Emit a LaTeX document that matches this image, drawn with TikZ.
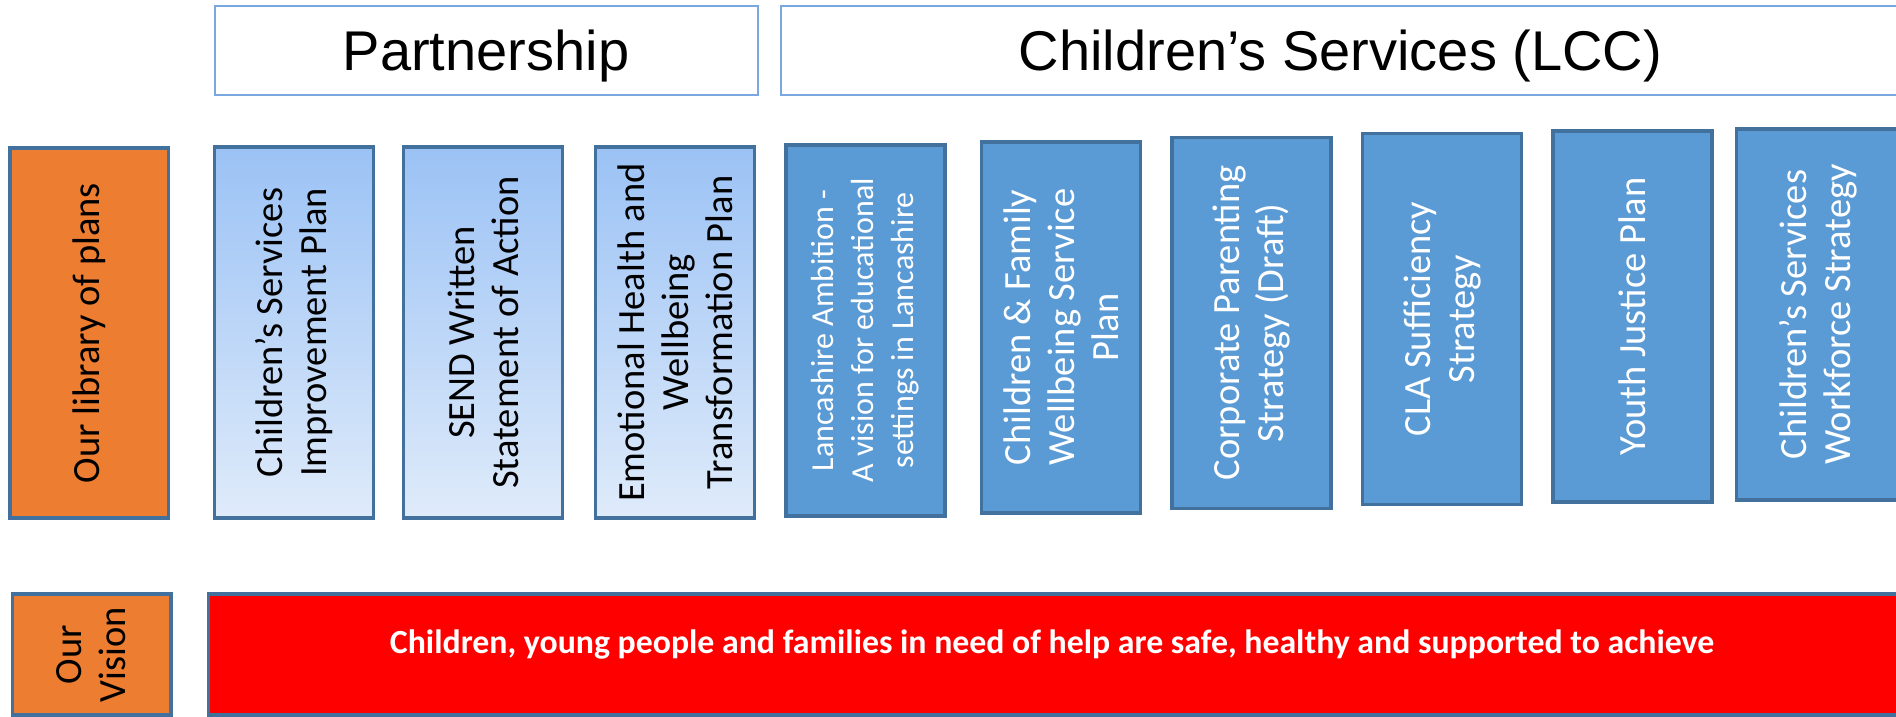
\documentclass[tikz,border=0pt]{standalone}
\usepackage{fontspec}
\newfontfamily\boxfont{Carlito}
\newfontfamily\headfont{Liberation Sans}
\definecolor{edgeblue}{HTML}{41719C}
\definecolor{planblue}{HTML}{5B9BD5}
\definecolor{headline}{HTML}{7AA7E0}
\definecolor{sideorange}{HTML}{ED7D31}
\definecolor{gradtop}{RGB}{155,194,245}
\definecolor{gradbottom}{RGB}{223,235,250}
\definecolor{visionred}{HTML}{FF0000}

\begin{document}
\begin{tikzpicture}[x=1pt,y=-1pt,
  headbox/.style={draw=headline, line width=2pt, fill=white, inner sep=0pt,
    font=\headfont\fontsize{56}{60}\selectfont, text depth=0pt},
  tallbox/.style={draw=edgeblue, line width=3.5pt, rotate=90, inner sep=0pt,
    align=center, minimum width=371pt, minimum height=159pt,
    font=\boxfont\fontsize{38.5}{44}\selectfont},
  sidebox/.style={tallbox, fill=sideorange, text=black},
  partbox/.style={tallbox, top color=gradtop, bottom color=gradbottom, text=black},
  lccbox/.style={tallbox, fill=planblue, text=white},
  smalltext/.style={font=\boxfont\fontsize{32}{40}\selectfont},
  visionbar/.style={draw=edgeblue, line width=3.5pt, fill=visionred, inner sep=0pt},
  visiontext/.style={text=white, inner sep=0pt,
    font=\boxfont\bfseries\fontsize{33.8}{40}\selectfont}
]
\useasboundingbox (0,0) rectangle (1896,717);
\clip (0,0) rectangle (1896,717);

% column headings
\node[headbox, minimum width=543pt, minimum height=88pt] (partnership) at (486,50.5) {Partnership};
\node[headbox, minimum width=1119pt, minimum height=88pt] (lcc) at (1340.5,50.5) {Children’s Services (LCC)};

% row label
\node[sidebox, minimum width=370pt, minimum height=158.5pt] (library) at (89,333) {Our library of plans};

% partnership plans
\node[partbox] (csip) at (294,332.5) {Children’s Services\\Improvement Plan};
\node[partbox] (send) at (483,332.5) {SEND Written\\Statement of Action};
\node[partbox] (ehwb) at (675,332.5) {Emotional Health and\\Wellbeing\\Transformation Plan};

% council plans
\node[lccbox, smalltext] (ambition) at (865.5,330.3) {Lancashire Ambition -\\A vision for educational\\settings in Lancashire};
\node[lccbox] (cfw) at (1061,327.3) {Children \& Family\\Wellbeing Service\\Plan};
\node[lccbox] (corporate) at (1251.5,322.8) {Corporate Parenting\\Strategy (Draft)};
\node[lccbox] (cla) at (1442,319) {CLA Sufficiency\\Strategy};
\node[lccbox] (youth) at (1632.5,316.5) {Youth Justice Plan};
\node[lccbox, minimum height=163pt] (workforce) at (1818,314.5) {Children’s Services\\Workforce Strategy};

% vision row
\node[sidebox, minimum width=121pt, minimum height=158.5pt] (visionlabel) at (91.5,654.5) {Our\\Vision};
\node[visionbar, minimum width=1692pt, minimum height=121pt] (bar) at (1054.5,654.5) {};
\node[visiontext, anchor=base] (vision) at (1052,653) {Children, young people and families in need of help are safe, healthy and supported to achieve};
\end{tikzpicture}
\end{document}
